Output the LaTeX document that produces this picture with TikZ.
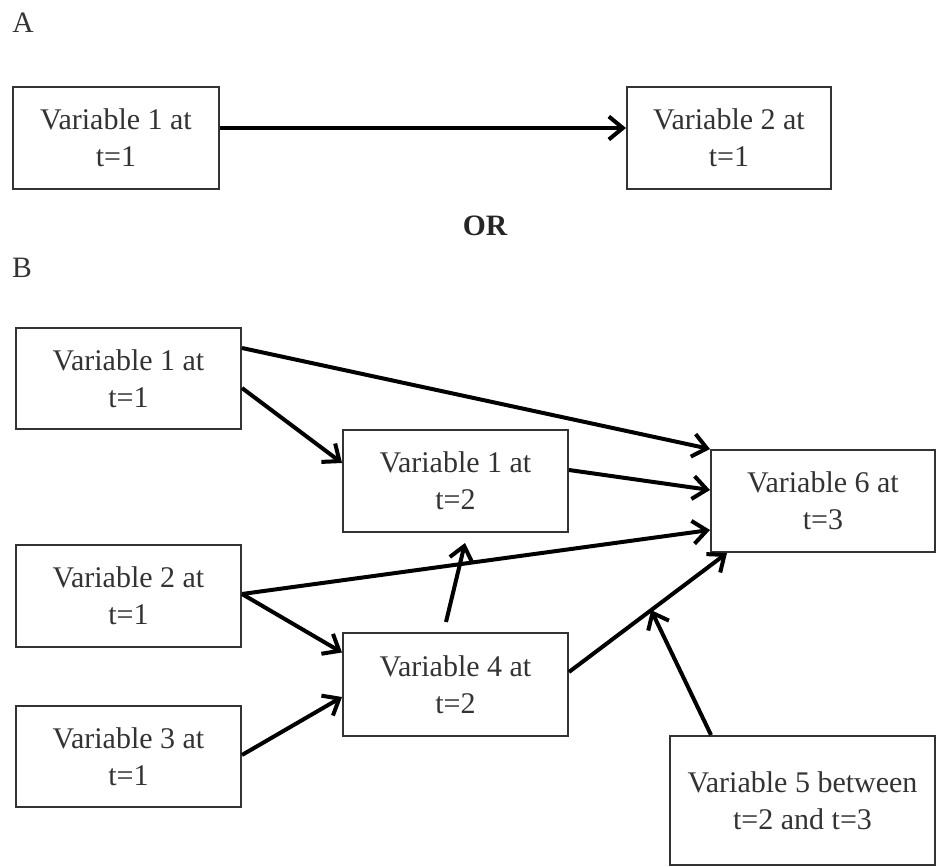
\documentclass[tikz,border=0pt]{standalone}
\usepackage{fontspec}
\setmainfont{Liberation Serif}
\usetikzlibrary{arrows.meta}
\definecolor{boxgray}{HTML}{333333}
\begin{document}
\begin{tikzpicture}[x=0.5pt,y=-0.5pt,
  varbox/.style={draw=boxgray,line width=1pt,fill=white,align=center,
    text=boxgray,inner sep=0pt,
    font=\fontsize{15}{18.5}\selectfont},
  link/.style={line width=2pt,-{Straight Barb[length=7pt,width=11.5pt]}},
  panel/.style={font=\fontsize{14.8}{18}\selectfont,text=boxgray}]
\useasboundingbox[fill=white] (0,0) rectangle (939,867);

% Panel A
\node[panel] (labA) at (23,23) {A};
\node[varbox,minimum width=103pt,minimum height=51pt] (a1) at (116,138) {Variable 1 at\\t=1};
\node[varbox,minimum width=102pt,minimum height=51pt] (a2) at (729,138) {Variable 2 at\\t=1};
\draw[link] ([yshift=5pt]a1.east) -- ([yshift=5pt]a2.west);

\node[font=\fontsize{14.8}{18}\selectfont\bfseries,text=black!85] (or) at (485,226) {OR};

% Panel B
\node[panel] (labB) at (22,268) {B};
\node[varbox,minimum width=112.5pt,minimum height=50.5pt] (v1a) at (128.5,378.5) {Variable 1 at\\t=1};
\node[varbox,minimum width=112.5pt,minimum height=51pt] (v1b) at (455.5,481) {Variable 1 at\\t=2};
\node[varbox,minimum width=112pt,minimum height=51pt] (v6) at (823,501) {Variable 6 at\\t=3};
\node[varbox,minimum width=112.5pt,minimum height=51pt] (v2a) at (128.5,596) {Variable 2 at\\t=1};
\node[varbox,minimum width=112.5pt,minimum height=51.5pt] (v4) at (455.5,684.5) {Variable 4 at\\t=2};
\node[varbox,minimum width=112.5pt,minimum height=50.5pt] (v3a) at (128.5,756.5) {Variable 3 at\\t=1};
\node[varbox,minimum width=132.5pt,minimum height=64.5pt] (v5) at (802.5,800.5) {Variable 5 between\\t=2 and t=3};

\draw[link] ([yshift=15.25pt]v1a.east) -- (v6.north west);
\draw[link] ([yshift=-4.75pt]v1a.east) -- ([yshift=9pt]v1b.west);
\draw[link] ([yshift=5.5pt]v1b.east) -- ([yshift=5.5pt]v6.west);
\draw[link] ([yshift=1pt]v2a.east) -- ([yshift=-14.5pt]v6.west);
\draw[link] ([yshift=1pt]v2a.east) -- ([yshift=16pt]v4.west);
\draw[link] ([yshift=0.75pt]v3a.east) -- ([yshift=-6.25pt]v4.west);
\draw[link] ([xshift=-4.75pt,yshift=5pt]v4.north) -- ([xshift=4.75pt,yshift=-5pt]v1b.south);
\draw[link] ([yshift=6.25pt]v4.east) -- coordinate[pos=0.52] (meet) ([xshift=8.5pt]v6.south west);
\draw[link] ([xshift=-45.75pt]v5.north) -- (meet);
\end{tikzpicture}
\end{document}
